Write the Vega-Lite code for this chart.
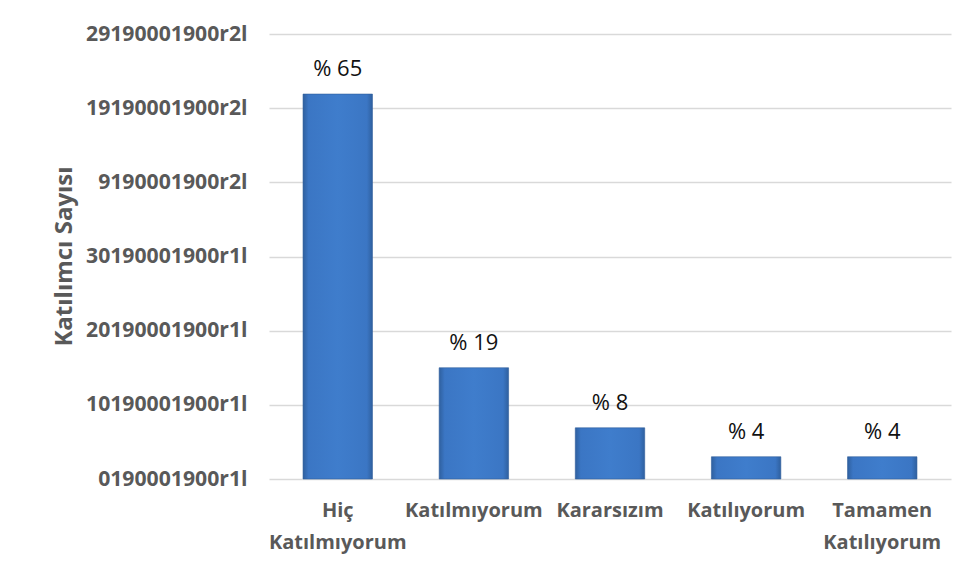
{
  "$schema": "https://vega.github.io/schema/vega-lite/v6.json",
  "autosize": {"type": "none"},
  "width": 682,
  "height": 445,
  "padding": {"left": 269, "top": 34, "right": 17, "bottom": 90},
  "background": "white",
  "data": {
    "values": [
      {"cat": "Hiç Katılmıyorum", "value": 51.9, "pct": "% 65"},
      {"cat": "Katılmıyorum", "value": 15.0, "pct": "% 19"},
      {"cat": "Kararsızım", "value": 6.9, "pct": "% 8"},
      {"cat": "Katılıyorum", "value": 3.0, "pct": "% 4"},
      {"cat": "Tamamen Katılıyorum", "value": 3.0, "pct": "% 4"}
    ]
  },
  "encoding": {
    "x": {
      "field": "cat",
      "type": "nominal",
      "sort": null,
      "scale": {"paddingInner": 0.49, "paddingOuter": 0.25},
      "axis": {
        "title": null,
        "labelAngle": 0,
        "domain": false,
        "ticks": false,
        "tickSize": 0,
        "labelFont": "Open Sans",
        "labelFontWeight": "bold",
        "labelFontSize": 20,
        "labelColor": "#595959",
        "labelBaseline": "alphabetic",
        "labelPadding": 37,
        "labelLineHeight": 32,
        "labelExpr": "datum.value == 'Hiç Katılmıyorum' ? ['Hiç', 'Katılmıyorum'] : datum.value == 'Tamamen Katılıyorum' ? ['Tamamen', 'Katılıyorum'] : datum.value"
      }
    },
    "y": {
      "field": "value",
      "type": "quantitative",
      "scale": {"domain": [0, 60], "nice": false},
      "axis": {
        "values": [0, 10, 20, 30, 40, 50, 60],
        "title": "Katılımcı Sayısı",
        "titleFont": "Open Sans",
        "titleFontWeight": "bold",
        "titleFontSize": 24,
        "titleColor": "#595959",
        "titleX": -198,
        "titleY": 222,
        "titleAngle": -90,
        "titleAlign": "center",
        "titleBaseline": "alphabetic",
        "domain": false,
        "ticks": false,
        "tickSize": 0,
        "labelPadding": 22,
        "labelFont": "Open Sans",
        "labelFontWeight": "bold",
        "labelFontSize": 21.2,
        "labelColor": "#595959",
        "grid": true,
        "gridColor": "#d9d9d9",
        "gridWidth": 1.5,
        "labelExpr": "datum.value == 0 ? '0190001900r1l' : datum.value == 10 ? '10190001900r1l' : datum.value == 20 ? '20190001900r1l' : datum.value == 30 ? '30190001900r1l' : datum.value == 40 ? '9190001900r2l' : datum.value == 50 ? '19190001900r2l' : '29190001900r2l'"
      }
    }
  },
  "layer": [
    {
      "mark": {
        "type": "bar",
        "color": {
          "gradient": "linear",
          "x1": 0, "y1": 0, "x2": 1, "y2": 0,
          "stops": [
            {"offset": 0, "color": "#2f609f"},
            {"offset": 0.08, "color": "#3b76c4"},
            {"offset": 0.5, "color": "#3f7dcc"},
            {"offset": 0.92, "color": "#3b76c4"},
            {"offset": 1, "color": "#2f609f"}
          ]
        },
        "stroke": "#2f5e9c",
        "strokeWidth": 0.6
      }
    },
    {
      "mark": {
        "type": "text",
        "font": "Open Sans",
        "fontSize": 22,
        "color": "#111111",
        "baseline": "alphabetic",
        "dy": -18
      },
      "encoding": {"text": {"field": "pct"}}
    }
  ],
  "config": {"view": {"stroke": null}}
}
